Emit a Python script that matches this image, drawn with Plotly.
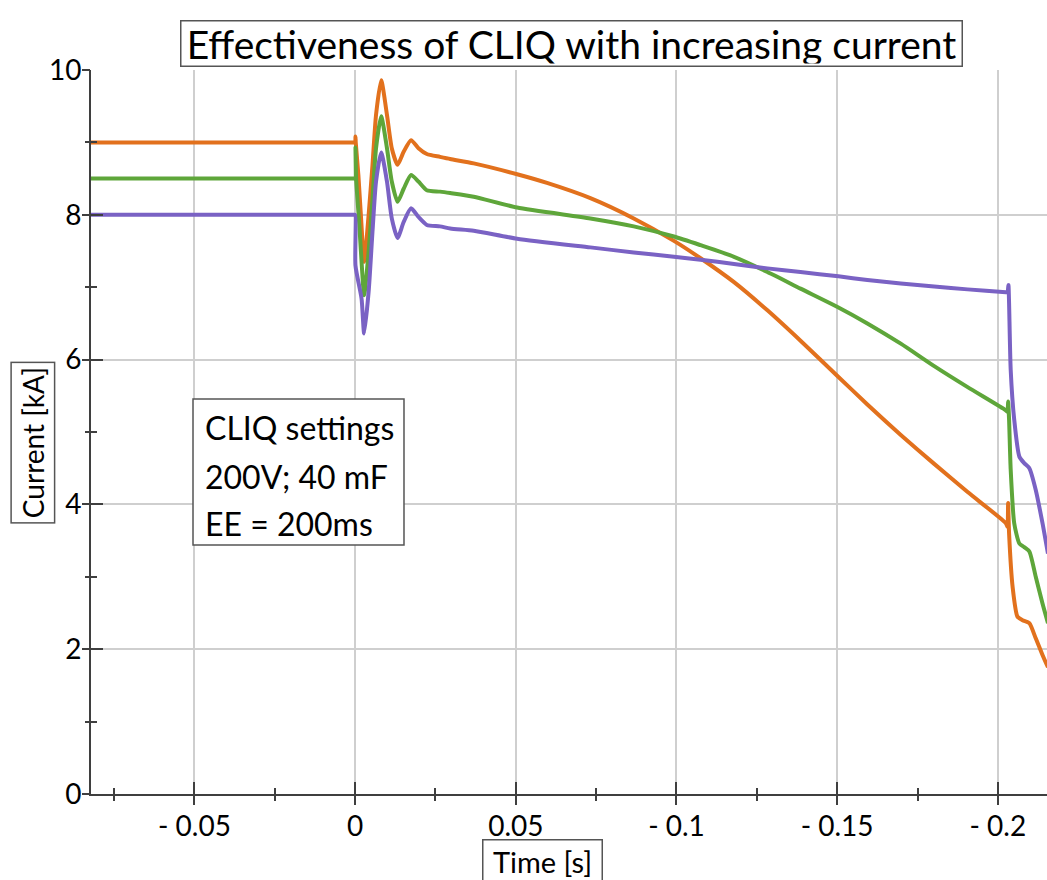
import plotly.graph_objects as go

# ---------------- data ----------------
t_orange = [-0.0822, -0.06, -0.04, -0.02, -0.005, -0.0004, 0.0, 0.0001, 0.0002, 0.0010,
            0.0019, 0.0028, 0.0042, 0.0054, 0.0065,
            0.0081, 0.0099, 0.0114, 0.0132, 0.0151, 0.0174, 0.0197, 0.0223, 0.0264, 0.0296,
            0.0369, 0.0504, 0.0597, 0.0732, 0.0867, 0.0992, 0.1075, 0.1179, 0.1283, 0.1386,
            0.1504, 0.1594, 0.1698, 0.1802, 0.1906, 0.2025, 0.2030, 0.2032, 0.2035, 0.2046,
            0.2061, 0.2077, 0.2098, 0.2118, 0.2139, 0.2156]
i_orange = [9.00, 9.00, 9.00, 9.00, 9.00, 9.00, 9.00, 9.08, 8.99, 8.55,
            7.91, 7.35, 8.00, 8.69, 9.38,
            9.86, 9.38, 8.92, 8.69, 8.87, 9.03, 8.92, 8.84, 8.80, 8.77,
            8.71, 8.56, 8.44, 8.23, 7.95, 7.64, 7.40, 7.07, 6.68, 6.26,
            5.76, 5.38, 4.96, 4.56, 4.17, 3.74, 3.69, 4.02, 3.60, 2.86,
            2.45, 2.40, 2.36, 2.15, 1.92, 1.75]

t_green = [-0.0822, -0.06, -0.04, -0.02, -0.005, -0.0004, 0.0, 0.0001, 0.0003, 0.0013,
           0.0020, 0.0028, 0.0042, 0.0054, 0.0065,
           0.0081, 0.0099, 0.0114, 0.0132, 0.0151, 0.0174, 0.0197, 0.0223, 0.0264, 0.0296,
           0.0369, 0.0504, 0.0732, 0.0867, 0.0992, 0.1075, 0.1179, 0.1283, 0.1386,
           0.1504, 0.1594, 0.1698, 0.1802, 0.1906, 0.2025, 0.2030, 0.2032, 0.2035, 0.2040,
           0.2051, 0.2067, 0.2082, 0.2098, 0.2118, 0.2139, 0.2156]
i_green = [8.50, 8.50, 8.50, 8.50, 8.50, 8.50, 8.50, 8.93, 8.50, 7.86,
           7.35, 6.89, 7.49, 8.22, 8.92,
           9.36, 8.92, 8.46, 8.18, 8.36, 8.55, 8.46, 8.34, 8.32, 8.30,
           8.25, 8.10, 7.95, 7.84, 7.70, 7.58, 7.42, 7.21, 6.98,
           6.72, 6.50, 6.22, 5.91, 5.62, 5.30, 5.28, 5.42, 5.17, 4.48,
           3.74, 3.46, 3.41, 3.35, 3.00, 2.63, 2.36]

t_purple = [-0.0822, -0.06, -0.04, -0.02, -0.005, -0.0004, 0.0, 0.0001, 0.0020, 0.0028,
            0.0042, 0.0054, 0.0065,
            0.0081, 0.0099, 0.0114, 0.0132, 0.0151, 0.0174, 0.0197, 0.0223, 0.0264, 0.0296,
            0.0369, 0.0504, 0.0732, 0.0867, 0.0992, 0.1075, 0.1179, 0.1283, 0.1386,
            0.1504, 0.1594, 0.1698, 0.1802, 0.1906, 0.2025, 0.2030, 0.2033, 0.2035, 0.2040,
            0.2051, 0.2067, 0.2082, 0.2098, 0.2118, 0.2139, 0.2156]
i_purple = [8.00, 8.00, 8.00, 8.00, 8.00, 8.00, 8.00, 7.30, 6.84, 6.36,
            6.94, 7.77, 8.46,
            8.86, 8.46, 7.95, 7.68, 7.90, 8.09, 7.97, 7.86, 7.84, 7.81,
            7.78, 7.67, 7.55, 7.48, 7.42, 7.38, 7.32, 7.26, 7.21,
            7.15, 7.10, 7.05, 7.01, 6.97, 6.93, 6.93, 7.03, 6.78, 5.86,
            5.17, 4.66, 4.57, 4.50, 4.20, 3.74, 3.32]

x_tickvals = [-0.05, 0.0, 0.05, 0.1, 0.15, 0.2]
x_ticktext = ["- 0.05", "0", "0.05", "- 0.1", "- 0.15", "- 0.2"]
y_tickvals = [0, 2, 4, 6, 8, 10]
y_ticktext = ["0", "2", "4", "6", "8", "10"]

title_text = "Effectiveness of CLIQ with increasing current"
x_title = "Time [s]"
y_title = "Current [kA]"
note_lines = ["CLIQ settings", "200V; 40 mF", "EE = 200ms"]

# ---------------- styling ----------------
FONT = "Lato"
AXC = "#3f3f3f"
GRID = "#cfcfcf"
XR = [-0.0822, 0.2153]
YR = [0, 10]

fig = go.Figure()
for t, i, c in [(t_orange, i_orange, "#e2711d"),
                (t_green, i_green, "#5ea63a"),
                (t_purple, i_purple, "#7a62c4")]:
    fig.add_trace(go.Scatter(x=t, y=i, mode="lines",
                             line=dict(color=c, width=4, shape="spline", smoothing=0.6),
                             showlegend=False))

# dummy trace for the overlay axes (outer half of the crossing ticks)
fig.add_trace(go.Scatter(x=[None], y=[None], xaxis="x2", yaxis="y2",
                         showlegend=False, hoverinfo="skip"))

fig.update_layout(
    width=1047, height=880,
    margin=dict(l=91, r=0, t=70, b=86),
    paper_bgcolor="white", plot_bgcolor="white",
    font=dict(family=FONT, color="black"),
    xaxis=dict(range=XR, tickvals=x_tickvals, ticktext=x_ticktext,
               showgrid=True, gridcolor=GRID, gridwidth=1.5,
               zeroline=False, showline=True, linecolor=AXC, linewidth=2,
               ticks="inside", ticklen=12, tickwidth=1.5, tickcolor=AXC,
               minor=dict(dtick=0.025, tick0=0, ticks="inside", ticklen=6,
                          tickwidth=1.5, tickcolor=AXC, showgrid=False),
               tickfont=dict(size=28, family=FONT, color="black"),
               ticklabelstandoff=6),
    yaxis=dict(range=YR, tickvals=y_tickvals, ticktext=y_ticktext,
               showgrid=True, gridcolor=GRID, gridwidth=1.5,
               zeroline=False, showline=True, linecolor=AXC, linewidth=2,
               ticks="inside", ticklen=12, tickwidth=1.5, tickcolor=AXC,
               minor=dict(dtick=1, tick0=0, ticks="inside", ticklen=6,
                          tickwidth=1.5, tickcolor=AXC, showgrid=False),
               tickfont=dict(size=28, family=FONT, color="black"),
               ticklabelstandoff=2),
    xaxis2=dict(range=XR, overlaying="x", anchor="y2", side="bottom",
                tickvals=x_tickvals, showticklabels=False, showgrid=False,
                zeroline=False, showline=False,
                ticks="outside", ticklen=10, tickwidth=1.5, tickcolor=AXC,
                minor=dict(dtick=0.025, tick0=0, ticks="outside", ticklen=6,
                           tickwidth=1.5, tickcolor=AXC, showgrid=False)),
    yaxis2=dict(range=YR, overlaying="y", anchor="x2", side="left",
                tickvals=y_tickvals, showticklabels=False, showgrid=False,
                zeroline=False, showline=False,
                ticks="outside", ticklen=8, tickwidth=1.5, tickcolor=AXC,
                minor=dict(dtick=1, tick0=0, ticks="outside", ticklen=5,
                           tickwidth=1.5, tickcolor=AXC, showgrid=False)),
)

# title box
fig.add_annotation(text=title_text, xref="paper", yref="paper",
                   x=0.5021, y=1.037, xanchor="center", yanchor="middle",
                   showarrow=False, font=dict(size=39, family=FONT, color="black"),
                   width=776, height=40,
                   bordercolor="#555555", borderwidth=1.5, borderpad=2, bgcolor="white")
# y label box
fig.add_annotation(text=y_title, xref="paper", yref="paper",
                   x=-0.0612, y=0.486, xanchor="center", yanchor="middle",
                   textangle=-90, showarrow=False,
                   font=dict(size=28, family=FONT, color="black"),
                   bordercolor="#555555", borderwidth=1.5, borderpad=4, bgcolor="white")
# x label box
fig.add_annotation(text=x_title, xref="paper", yref="paper",
                   x=0.4718, y=-0.0925, xanchor="center", yanchor="middle",
                   showarrow=False, font=dict(size=29, family=FONT, color="black"),
                   width=112, borderpad=3,
                   bordercolor="#555555", borderwidth=1.5, bgcolor="white")

# CLIQ settings box
fig.add_shape(type="rect", xref="paper", yref="paper",
              x0=0.1067, x1=0.3274, y0=0.3439, y1=0.5456,
              line=dict(color="#555555", width=1.5), fillcolor="white", layer="above")
for txt, yy in zip(note_lines, [0.5069, 0.4392, 0.3743]):
    fig.add_annotation(text=txt, xref="paper", yref="paper", x=0.1172, y=yy,
                       xanchor="left", yanchor="middle", showarrow=False,
                       font=dict(size=32, family=FONT, color="black"))

fig.write_html("out.html")
